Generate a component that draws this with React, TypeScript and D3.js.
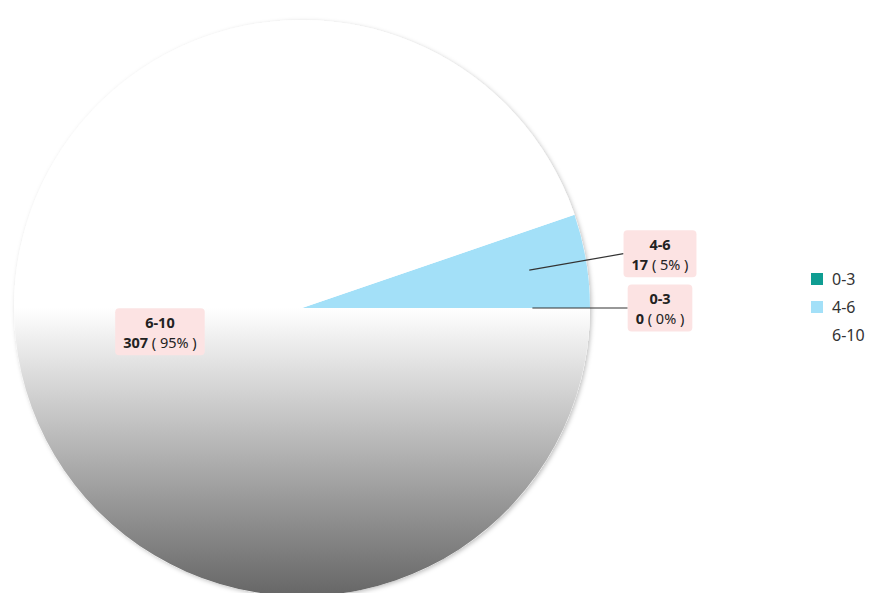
import React, { useEffect, useRef } from "react";
import * as d3 from "d3";

const categories = ["0-3", "4-6", "6-10"];
const values = [0, 17, 307];
const colors = ["#0f9d92", "#a3e0f8", "url(#grayGrad)"];
const legendSwatch = ["#0f9d92", "#a3e0f8", "none"];

const W = 870;
const H = 593;

export default function App() {
  const ref = useRef<SVGSVGElement | null>(null);

  useEffect(() => {
    const svg = d3.select(ref.current);
    svg.selectAll("*").remove();
    const cx = 302, cy = 308, r = 288;
    const total = d3.sum(values);

    const defs = svg.append("defs");
    const grad = defs.append("linearGradient").attr("id", "grayGrad")
      .attr("gradientUnits", "userSpaceOnUse")
      .attr("x1", 0).attr("y1", -r).attr("x2", 0).attr("y2", r);
    grad.append("stop").attr("offset", "0%").attr("stop-color", "#ffffff");
    grad.append("stop").attr("offset", "50%").attr("stop-color", "#ffffff");
    grad.append("stop").attr("offset", "100%").attr("stop-color", "#666666");
    const f = defs.append("filter").attr("id", "shadow").attr("x", "-10%").attr("y", "-10%").attr("width", "120%").attr("height", "120%");
    f.append("feDropShadow").attr("dx", 1.5).attr("dy", 1.5).attr("stdDeviation", 2).attr("flood-color", "#000").attr("flood-opacity", 0.25);

    const pie = d3.pie<number>().sort(null).value((d) => d)
      .startAngle(Math.PI / 2).endAngle(Math.PI / 2 - 2 * Math.PI);
    const arcs = pie(values);
    const arc = d3.arc<d3.PieArcDatum<number>>().innerRadius(0).outerRadius(r);

    const g = svg.append("g").attr("transform", `translate(${cx},${cy})`);
    g.append("circle").attr("r", r).attr("fill", "#fff").attr("filter", "url(#shadow)");
    g.selectAll("path.slice").data(arcs).enter().append("path")
      .attr("class", "slice")
      .attr("d", (d) => arc(d) as string)
      .attr("fill", (d, i) => colors[i]);

    const font = "'Noto Sans', 'Open Sans', sans-serif";
    const labels = svg.append("g");
    arcs.forEach((d, i) => {
      const mid = (d.startAngle + d.endAngle) / 2;
      const sx = Math.sin(mid), sy = -Math.cos(mid);
      const pct = Math.round((values[i] / total) * 100);
      const inside = values[i] / total > 0.5;
      let lx: number, ly: number;
      if (inside) {
        lx = cx + sx * r * 0.5;
        ly = cy + sy * r * 0.5;
      } else {
        lx = cx + r + 70;
        ly = cy + sy * r * 1.15;
      }
      const lg = labels.append("g");
      const rect = lg.append("rect");
      const t1 = lg.append("text").attr("x", lx).attr("y", ly - 4)
        .attr("text-anchor", "middle").attr("font-family", font).attr("font-size", 14.5)
        .attr("font-weight", "bold").attr("fill", "#222").text(categories[i]);
      const t2 = lg.append("text").attr("x", lx).attr("y", ly + 16)
        .attr("text-anchor", "middle").attr("font-family", font).attr("font-size", 14.5)
        .attr("fill", "#222");
      t2.append("tspan").attr("font-weight", "bold").text(String(values[i]));
      t2.append("tspan").text(` ( ${pct}% )`);
      const b1 = (t1.node() as SVGTextElement).getBBox();
      const b2 = (t2.node() as SVGTextElement).getBBox();
      const bw = Math.max(b1.width, b2.width) + 16;
      const bh = 47;
      rect.attr("x", lx - bw / 2).attr("y", ly - bh / 2).attr("width", bw).attr("height", bh)
        .attr("rx", 4).attr("fill", "#fce3e3");
      if (!inside) {
        const px = cx + sx * r * 0.8, py = cy + sy * r * 0.8;
        labels.insert("line", ":first-child")
          .attr("x1", px).attr("y1", py).attr("x2", lx - bw / 2).attr("y2", ly)
          .attr("stroke", "#333").attr("stroke-width", 1.2);
      }
    });

    const leg = svg.append("g");
    categories.forEach((c, i) => {
      const y = 279 + i * 28;
      if (legendSwatch[i] !== "none") {
        leg.append("rect").attr("x", 811).attr("y", y - 6).attr("width", 12).attr("height", 12)
          .attr("fill", legendSwatch[i]);
      }
      leg.append("text").attr("x", 832).attr("y", y + 5.5).attr("font-family", font)
        .attr("font-size", 16).attr("fill", "#333").text(c);
    });
  }, []);

  return (
    <svg ref={ref} width={W} height={H} style={{ position: "absolute", left: 0, top: 0, background: "#fff" }} />
  );
}
